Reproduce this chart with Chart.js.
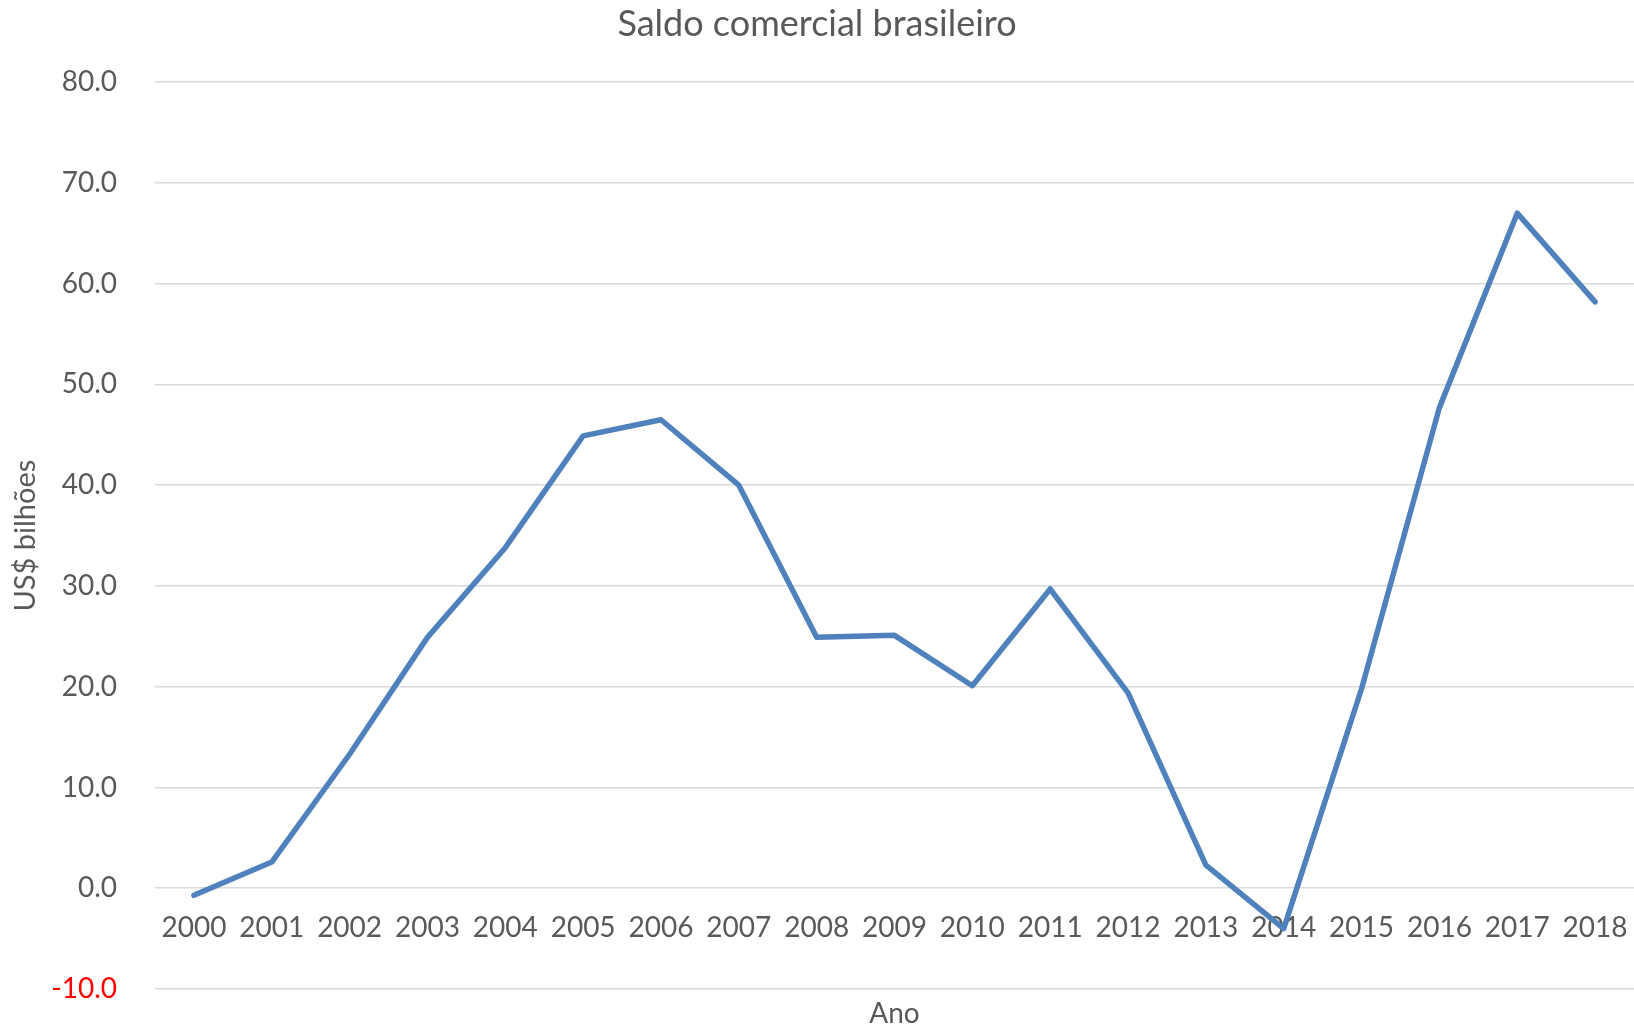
<!DOCTYPE html>
<html>
<head>
<meta charset="utf-8">
<script src="https://cdn.jsdelivr.net/npm/chart.js@4"></script>
<style>
    html, body { margin: 0; padding: 0; background: #ffffff; }
    #wrap { width: 1634px; height: 1030px; }
</style>
</head>
<body>
<div id="wrap"><canvas id="saldoChart"></canvas></div>
<script>
// Values (US$ billions)
const anos = ['2000', '2001', '2002', '2003', '2004', '2005', '2006', '2007', '2008', '2009',
              '2010', '2011', '2012', '2013', '2014', '2015', '2016', '2017', '2018'];
const saldo = [-0.7, 2.6, 13.3, 24.9, 33.8, 44.9, 46.5, 40.0, 24.9, 25.1,
               20.1, 29.7, 19.4, 2.3, -4.0, 19.8, 47.7, 67.0, 58.2];
const yMin = -10;
const yMax = 80;
const yStep = 10;

const textGray = '#595959';
const fontName = 'Lato, "Open Sans", sans-serif';

// draws the category axis title under the plot, like the Excel original
const axisTitlePlugin = {
    id: 'anoTitle',
    afterDraw(chart) {
        const ctx = chart.ctx;
        const area = chart.chartArea;
        ctx.save();
        ctx.font = '28px ' + fontName;
        ctx.fillStyle = textGray;
        ctx.textAlign = 'center';
        ctx.textBaseline = 'middle';
        ctx.fillText('Ano', (area.left + area.right) / 2, area.bottom + 25);
        ctx.restore();
    }
};

const ctx = document.getElementById('saldoChart').getContext('2d');
new Chart(ctx, {
    type: 'line',
    data: {
        labels: anos,
        datasets: [{
            label: 'Saldo comercial',
            data: saldo,
            borderColor: '#4f81bd',
            borderWidth: 5.5,
            borderJoinStyle: 'round',
            borderCapStyle: 'round',
            pointRadius: 0,
            tension: 0,
            fill: false
        }]
    },
    options: {
        responsive: true,
        maintainAspectRatio: false,
        animation: false,
        layout: { padding: { top: 0, right: 0, bottom: 41, left: 0 } },
        plugins: {
            legend: { display: false },
            tooltip: { enabled: false },
            title: {
                display: true,
                text: 'Saldo comercial brasileiro',
                color: textGray,
                font: { family: fontName, size: 36, weight: 'normal' },
                padding: { top: 3, bottom: 36 }
            }
        },
        scales: {
            x: {
                // axis labels sit just under the zero line, as in Excel
                position: { y: 0 },
                offset: true,
                afterFit(scale) {
                    scale.paddingLeft = 0;
                    scale.paddingRight = 0;
                    scale.height = 0;
                },
                grid: { display: false, drawTicks: false },
                border: { display: false },
                ticks: {
                    color: textGray,
                    font: { family: fontName, size: 28 },
                    padding: 23,
                    autoSkip: false,
                    maxRotation: 0
                }
            },
            y: {
                min: yMin,
                max: yMax,
                afterFit(scale) {
                    scale.width = 155;
                    // tick padding would otherwise push the plot up from the bottom
                    scale.paddingTop = 17;
                    scale.paddingBottom = 17;
                },
                grid: { color: '#d9d9d9', lineWidth: 1.5, drawTicks: false },
                border: { display: false },
                ticks: {
                    stepSize: yStep,
                    padding: 38,
                    font: { family: fontName, size: 28 },
                    color: (c) => (c.tick && c.tick.value < 0 ? '#ff0000' : textGray),
                    callback: (v) => Number(v).toFixed(1)
                },
                title: {
                    display: true,
                    text: 'US$ bilhões',
                    color: textGray,
                    font: { family: fontName, size: 29 },
                    padding: { top: 8, bottom: 0 }
                }
            }
        }
    },
    plugins: [axisTitlePlugin]
});
</script>
</body>
</html>
